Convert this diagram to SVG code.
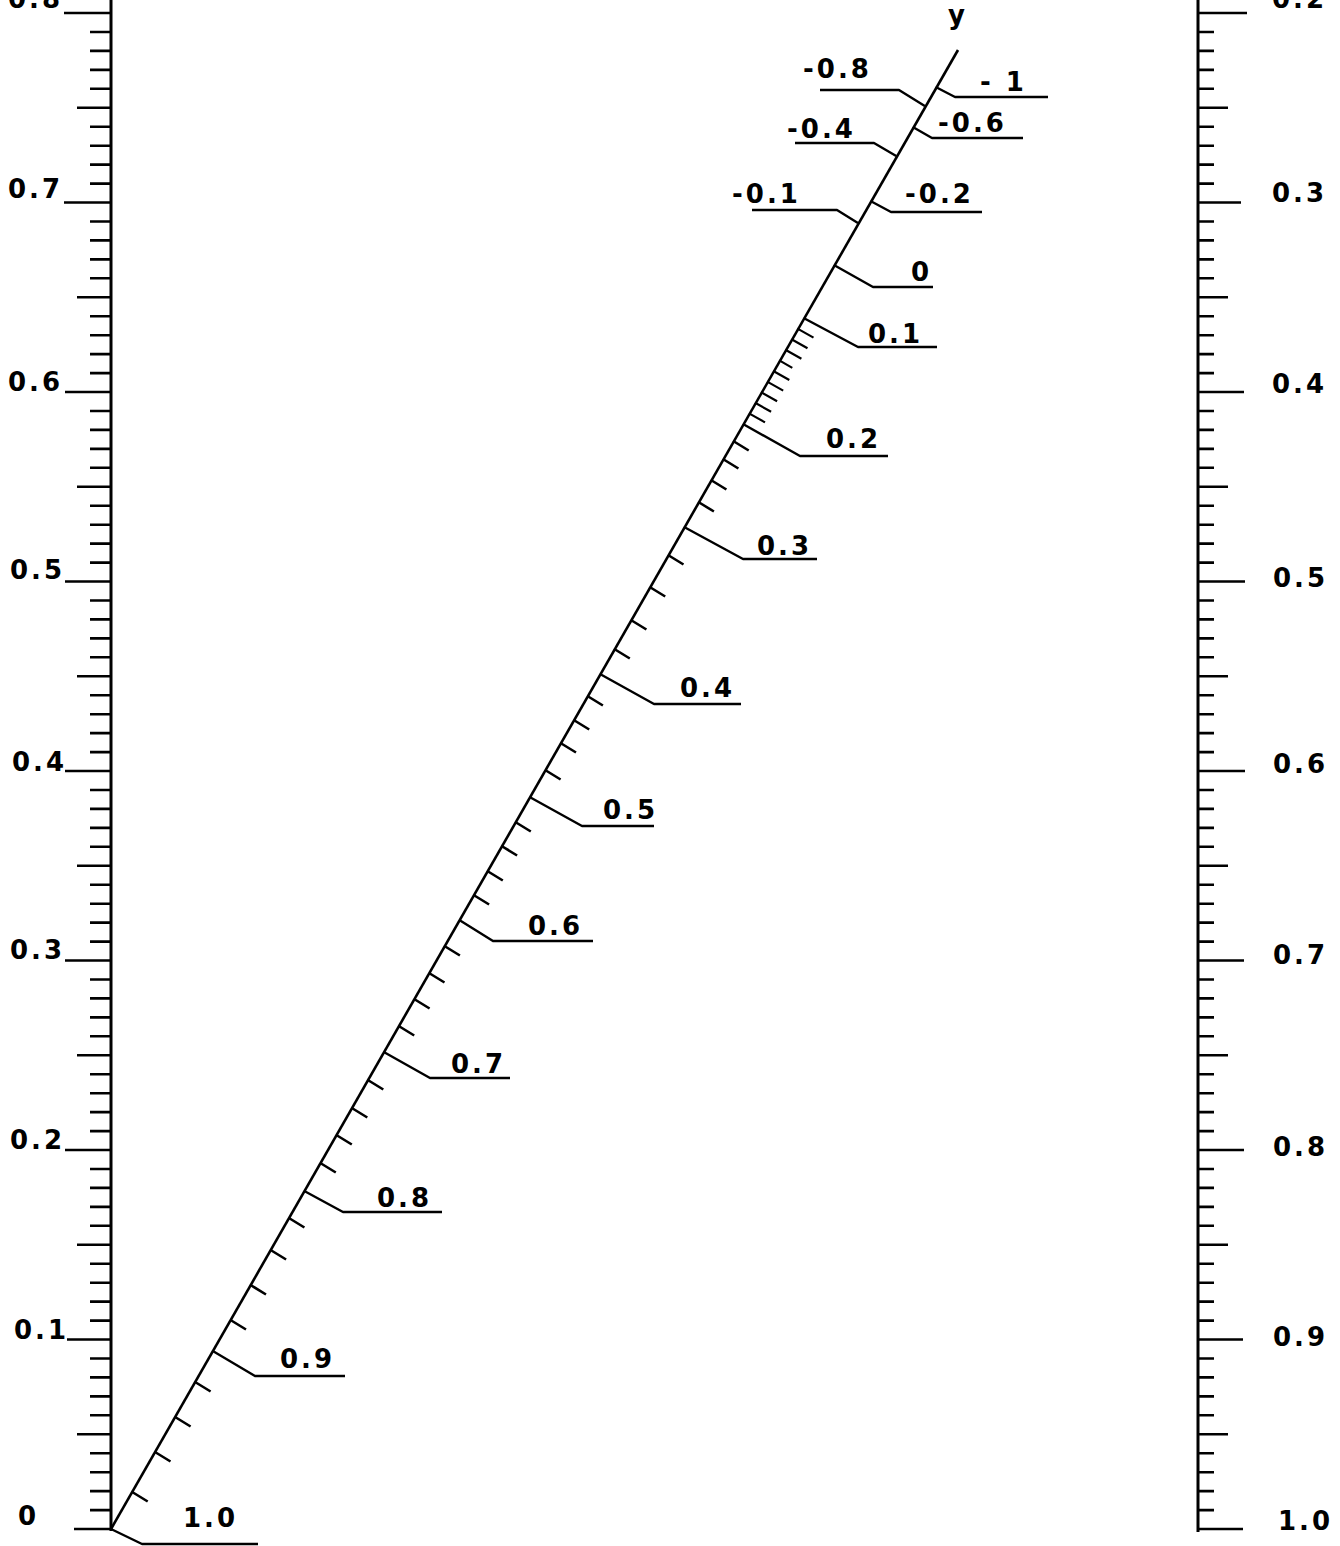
<svg xmlns="http://www.w3.org/2000/svg" width="1340" height="1546" viewBox="0 0 1340 1546">
<style>
.ax{stroke:#000;stroke-width:3;fill:none}
.tk{stroke:#000;stroke-width:2.6;fill:none}
.ld{stroke:#000;stroke-width:2.4;fill:none;stroke-linejoin:round}
.lb{font-family:"DejaVu Sans","Liberation Sans",sans-serif;font-size:26px;font-weight:bold;letter-spacing:3px;fill:#000}
</style>
<rect width="1340" height="1546" fill="#fff"/>
<g id="left-axis">
<path class="ax" d="M111 0V1531"/>
<path class="tk" d="M90 1510.1h21M90 1491.1h21M90 1472.2h21M90 1453.2h21M90 1415.3h21M90 1396.4h21M90 1377.4h21M90 1358.5h21M90 1320.6h21M90 1301.6h21M90 1282.7h21M90 1263.7h21M90 1225.8h21M90 1206.9h21M90 1187.9h21M90 1169h21M90 1131.1h21M90 1112.1h21M90 1093.2h21M90 1074.2h21M90 1036.3h21M90 1017.4h21M90 998.4h21M90 979.5h21M90 941.6h21M90 922.6h21M90 903.7h21M90 884.7h21M90 846.8h21M90 827.9h21M90 808.9h21M90 790h21M90 752.1h21M90 733.1h21M90 714.2h21M90 695.2h21M90 657.3h21M90 638.4h21M90 619.4h21M90 600.5h21M90 562.6h21M90 543.6h21M90 524.7h21M90 505.7h21M90 467.8h21M90 448.9h21M90 429.9h21M90 411h21M90 373.1h21M90 354.1h21M90 335.2h21M90 316.2h21M90 278.3h21M90 259.4h21M90 240.4h21M90 221.5h21M90 183.6h21M90 164.6h21M90 145.7h21M90 126.7h21M90 88.8h21M90 69.9h21M90 50.9h21M90 32h21"/>
<path class="tk" d="M77 1434.3h34M77 1244.8h34M77 1055.3h34M77 865.8h34M77 676.3h34M77 486.8h34M77 297.3h34M77 107.8h34"/>
<path class="tk" d="M74 1529h37M67 1339.5h44M65 1150h46M65 960.5h46M65 771h46M65 581.5h46M65 392h46M64 202.5h47M64 13h47"/>
<text class="lb" x="8" y="8">0.8</text>
<text class="lb" x="8" y="198">0.7</text>
<text class="lb" x="8" y="391">0.6</text>
<text class="lb" x="10" y="579">0.5</text>
<text class="lb" x="12" y="771">0.4</text>
<text class="lb" x="10" y="959">0.3</text>
<text class="lb" x="10" y="1149">0.2</text>
<text class="lb" x="14" y="1339">0.1</text>
<text class="lb" x="18" y="1525">0</text>
</g>
<g id="right-axis">
<path class="ax" d="M1198 0V1532"/>
<path class="tk" d="M1198 1510.1h16M1198 1491.1h16M1198 1472.2h16M1198 1453.2h16M1198 1415.3h16M1198 1396.4h16M1198 1377.4h16M1198 1358.5h16M1198 1320.6h16M1198 1301.6h16M1198 1282.7h16M1198 1263.7h16M1198 1225.8h16M1198 1206.9h16M1198 1187.9h16M1198 1169h16M1198 1131.1h16M1198 1112.1h16M1198 1093.2h16M1198 1074.2h16M1198 1036.3h16M1198 1017.4h16M1198 998.4h16M1198 979.5h16M1198 941.6h16M1198 922.6h16M1198 903.7h16M1198 884.7h16M1198 846.8h16M1198 827.9h16M1198 808.9h16M1198 790h16M1198 752.1h16M1198 733.1h16M1198 714.2h16M1198 695.2h16M1198 657.3h16M1198 638.4h16M1198 619.4h16M1198 600.5h16M1198 562.6h16M1198 543.6h16M1198 524.7h16M1198 505.7h16M1198 467.8h16M1198 448.9h16M1198 429.9h16M1198 411h16M1198 373.1h16M1198 354.1h16M1198 335.2h16M1198 316.2h16M1198 278.3h16M1198 259.4h16M1198 240.4h16M1198 221.5h16M1198 183.6h16M1198 164.6h16M1198 145.7h16M1198 126.7h16M1198 88.8h16M1198 69.9h16M1198 50.9h16M1198 32h16"/>
<path class="tk" d="M1198 1434.3h30M1198 1244.8h30M1198 1055.3h30M1198 865.8h30M1198 676.3h30M1198 486.8h30M1198 297.3h30M1198 107.8h30"/>
<path class="tk" d="M1198 1529h45M1198 1339.5h45M1198 1150h46M1198 960.5h46M1198 771h47M1198 581.5h47M1198 392h46M1198 202.5h43M1198 13h49"/>
<text class="lb" x="1272" y="8">0.2</text>
<text class="lb" x="1272" y="202">0.3</text>
<text class="lb" x="1272" y="393">0.4</text>
<text class="lb" x="1273" y="587">0.5</text>
<text class="lb" x="1273" y="773">0.6</text>
<text class="lb" x="1273" y="964">0.7</text>
<text class="lb" x="1273" y="1156">0.8</text>
<text class="lb" x="1273" y="1346">0.9</text>
<text class="lb" x="1278" y="1530">1.0</text>
</g>
<g id="y-axis">
<path class="ax" style="stroke-width:2.6" d="M111 1529L958 50"/>
<path class="tk" d="M132.2 1492l15.5 9.5M155 1452l15.5 9.5M175.1 1417l15.5 9.5M195.1 1382l15.5 9.5M230.5 1320l15.5 9.5M250.5 1285l15.5 9.5M270.6 1250l15.5 9.5M288.9 1218l15.5 9.5M320.3 1163l15.5 9.5M336.3 1135l15.5 9.5M351.8 1108l15.5 9.5M367.8 1080l15.5 9.5M398.7 1026l15.5 9.5M414.1 999l15.5 9.5M429 973l15.5 9.5M444.4 946l15.5 9.5M473.6 895l15.5 9.5M487.3 871l15.5 9.5M501.6 846l15.5 9.5M515.3 822l15.5 9.5M545.1 770l15.5 9.5M560.5 743l15.5 9.5M573.7 720l15.5 9.5M587.4 696l15.5 9.5M614.3 649l15.5 9.5M630.9 620l15.5 9.5M649.7 587l15.5 9.5M668 555l15.5 9.5M698.4 502l15.5 9.5M710.9 480l15.5 9.5M722.9 459l15.5 9.5M733.2 441l15.5 9.5"/>
<path class="tk" style="stroke-width:2.2" d="M749 413.4l16 9M755.1 402.8l16 9M761.1 392.2l16 9M767.2 381.6l16 9M773.3 371l16 9M779.3 360.4l13 7.5M785.4 349.8l16 9M791.5 339.2l16 9M797.5 328.6l16 9"/>
</g>
<g id="connectors">
<path class="ld" d="M111 1529L142 1544H258"/>
<path class="ld" d="M212.8 1351L255 1376H345"/>
<path class="ld" d="M304.3 1191L343 1212H442"/>
<path class="ld" d="M383.8 1052L430 1078H510"/>
<path class="ld" d="M459.3 920L493 941H593"/>
<path class="ld" d="M529.6 797L582 826H654"/>
<path class="ld" d="M600 674L654 704H741"/>
<path class="ld" d="M684.1 527L743 559H817"/>
<path class="ld" d="M743 424L800 456H888"/>
<path class="ld" d="M803.6 318L858 347H937"/>
<path class="ld" d="M833.9 265L873 287H933"/>
<path class="ld" d="M857.9 223L837 210H752"/>
<path class="ld" d="M870.5 201L891 212H982"/>
<path class="ld" d="M896.2 156L874 143H795"/>
<path class="ld" d="M912.8 127L932 138H1023"/>
<path class="ld" d="M924.8 106L899 90H820"/>
<path class="ld" d="M935.7 87L955 97H1048"/>
</g>
<g id="y-labels">
<text class="lb" x="948" y="24" style="letter-spacing:0">y</text>
<text class="lb" x="183" y="1527">1.0</text>
<text class="lb" x="280" y="1368">0.9</text>
<text class="lb" x="377" y="1207">0.8</text>
<text class="lb" x="451" y="1073">0.7</text>
<text class="lb" x="528" y="935">0.6</text>
<text class="lb" x="603" y="819">0.5</text>
<text class="lb" x="680" y="697">0.4</text>
<text class="lb" x="757" y="555">0.3</text>
<text class="lb" x="826" y="448">0.2</text>
<text class="lb" x="868" y="343">0.1</text>
<text class="lb" x="911" y="281">0</text>
<text class="lb" x="732" y="203">-0.1</text>
<text class="lb" x="905" y="203">-0.2</text>
<text class="lb" x="787" y="138">-0.4</text>
<text class="lb" x="938" y="132">-0.6</text>
<text class="lb" x="803" y="78">-0.8</text>
<text class="lb" x="980" y="91">- 1</text>
</g>
</svg>
